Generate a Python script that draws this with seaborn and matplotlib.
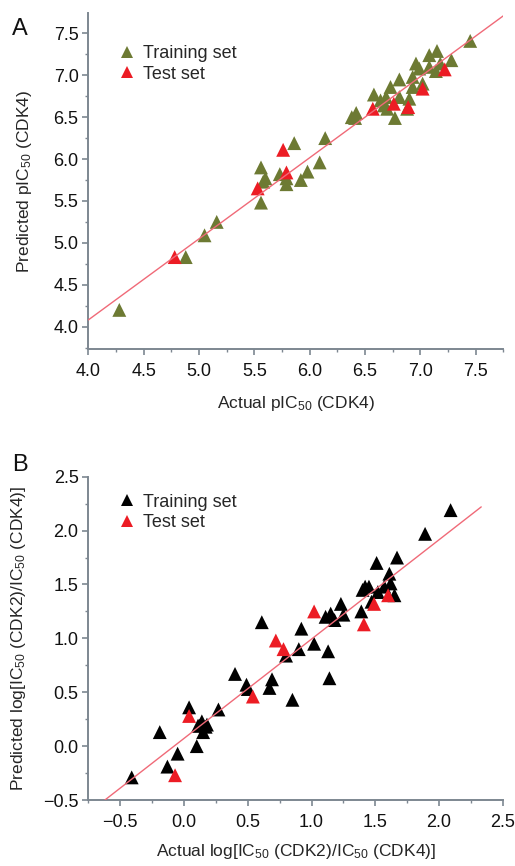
import numpy as np
import pandas as pd
import seaborn as sns
import matplotlib
import matplotlib.pyplot as plt
from matplotlib.ticker import MultipleLocator

matplotlib.use('Agg')

# Panel A: CDK4 pIC50 (actual vs predicted)
a_train_actual = [4.28, 4.88, 5.05, 5.16, 5.56, 5.56, 5.58, 5.60, 5.73, 5.79, 5.79,
                  5.86, 5.92, 5.98, 6.09, 6.14, 6.38, 6.42, 6.41, 6.58, 6.64, 6.67,
                  6.69, 6.73, 6.77, 6.81, 6.81, 6.70, 6.88, 6.90, 6.93, 6.93, 6.96,
                  6.99, 7.02, 7.08, 7.08, 7.15, 7.14, 7.18, 7.28, 7.45]
a_train_pred = [4.20, 4.83, 5.09, 5.25, 5.48, 5.90, 5.73, 5.77, 5.82, 5.77, 5.70,
                6.19, 5.75, 5.85, 5.96, 6.25, 6.50, 6.55, 6.49, 6.77, 6.70, 6.64,
                6.74, 6.86, 6.49, 6.95, 6.74, 6.60, 6.60, 6.72, 6.86, 6.98, 7.14,
                7.08, 6.90, 7.24, 7.10, 7.29, 7.05, 7.14, 7.18, 7.41]
a_test_actual = [4.78, 5.53, 5.76, 5.79, 6.57, 6.76, 6.89, 7.02, 7.22]
a_test_pred = [4.83, 5.65, 6.11, 5.84, 6.60, 6.66, 6.62, 6.84, 7.07]
a_fit_x = [4.0, 7.75]
a_fit_y = [4.08, 7.71]

# Panel B: selectivity log[IC50(CDK2)/IC50(CDK4)]
b_train_actual = [2.09, 1.89, 1.67, 1.51, 1.61, 1.62, 1.65, 1.57, 1.52, 1.45, 1.40,
                  1.47, 1.39, 1.23, 1.18, 1.11, 1.15, 1.25, 1.13, 1.14, 1.02, 0.92,
                  0.90, 0.80, 0.61, 0.85, 0.69, 0.67, 0.40, 0.49, 0.50, 0.27, 0.04,
                  0.14, 0.12, 0.17, 0.15, -0.19, 0.10, -0.05, -0.13, -0.41, 1.42,
                  0.18, 0.11]
b_train_pred = [2.19, 1.97, 1.75, 1.70, 1.60, 1.51, 1.40, 1.48, 1.43, 1.48, 1.45,
                1.34, 1.25, 1.32, 1.17, 1.20, 1.23, 1.22, 0.88, 0.63, 0.95, 1.09,
                0.90, 0.84, 1.15, 0.43, 0.62, 0.54, 0.67, 0.57, 0.53, 0.34, 0.36,
                0.23, 0.19, 0.18, 0.13, 0.13, 0.00, -0.07, -0.19, -0.29, 1.48,
                0.20, 0.19]
b_test_actual = [-0.07, 0.04, 0.54, 0.72, 0.78, 1.02, 1.41, 1.49, 1.60]
b_test_pred = [-0.27, 0.28, 0.46, 0.98, 0.90, 1.25, 1.13, 1.32, 1.40]
b_fit_x = [-0.62, 2.33]
b_fit_y = [-0.50, 2.22]

set_labels = ["Training set", "Test set"]

sns.set_theme(style="white")
plt.rcParams['font.family'] = ['Liberation Sans', 'DejaVu Sans']
plt.rcParams['mathtext.fontset'] = 'custom'
plt.rcParams['mathtext.rm'] = 'Liberation Sans'
plt.rcParams['mathtext.it'] = 'Liberation Sans'

SPINE = "#7d8791"
RED = "#ec1c24"
LINE = "#f06a78"


def make_df(train_x, train_y, test_x, test_y):
    return pd.DataFrame({
        "actual": list(train_x) + list(test_x),
        "pred": list(train_y) + list(test_y),
        "set": [set_labels[0]] * len(train_x) + [set_labels[1]] * len(test_x),
    })


def style_axes(ax, xlim, ylim, xmajor, ymajor):
    ax.set_xlim(*xlim)
    ax.set_ylim(*ylim)
    ax.xaxis.set_major_locator(MultipleLocator(xmajor))
    ax.xaxis.set_minor_locator(MultipleLocator(xmajor / 2))
    ax.yaxis.set_major_locator(MultipleLocator(ymajor))
    ax.yaxis.set_minor_locator(MultipleLocator(ymajor / 2))
    for side in ["top", "right"]:
        ax.spines[side].set_visible(False)
    for side in ["left", "bottom"]:
        ax.spines[side].set_color(SPINE)
        ax.spines[side].set_linewidth(1.4)
    ax.tick_params(which="major", direction="out", length=4, width=1.2,
                   color=SPINE, labelsize=13, labelcolor="#111111",
                   bottom=True, left=True)
    ax.tick_params(axis="x", which="major", pad=6)
    ax.tick_params(axis="y", which="major", pad=3)
    ax.tick_params(which="minor", direction="out", length=2.5, width=1.0,
                   color=SPINE, bottom=True, left=True)


def draw_panel(ax, df, fit_x, fit_y, train_color, legend_top):
    sns.scatterplot(data=df, x="actual", y="pred", hue="set",
                    palette={set_labels[0]: train_color, set_labels[1]: RED},
                    marker="^", s=100, edgecolor="none", linewidth=0, ax=ax,
                    zorder=2)
    sns.lineplot(x=fit_x, y=fit_y, color=LINE, linewidth=1.0, ax=ax, zorder=3)
    leg = ax.legend(loc="upper left", frameon=False, fontsize=13,
                    bbox_to_anchor=(0.067, legend_top), handletextpad=0.3,
                    labelspacing=0.2, borderaxespad=0, borderpad=0,
                    handlelength=1.2)
    for h in leg.legend_handles:
        h.set_markersize(8.5)


fig = plt.figure(figsize=(5.15, 8.66), dpi=100)
ax_a = fig.add_axes([0.1715, 0.5967, 0.806, 0.388])
ax_b = fig.add_axes([0.1715, 0.0762, 0.805, 0.3733])

df_a = make_df(a_train_actual, a_train_pred, a_test_actual, a_test_pred)
draw_panel(ax_a, df_a, a_fit_x, a_fit_y, "#6d7a33", 0.905)
style_axes(ax_a, (4.0, 7.75), (3.73, 7.74), 0.5, 0.5)
ax_a.set_xlabel("Actual pIC$_{50}$ (CDK4)", fontsize=12.5, labelpad=10)
ax_a.set_ylabel("Predicted pIC$_{50}$ (CDK4)", fontsize=12.5, labelpad=14)

df_b = make_df(b_train_actual, b_train_pred, b_test_actual, b_test_pred)
draw_panel(ax_b, df_b, b_fit_x, b_fit_y, "black", 0.948)
style_axes(ax_b, (-0.75, 2.5), (-0.5, 2.5), 0.5, 0.5)
ax_b.set_xlabel("Actual log[IC$_{50}$ (CDK2)/IC$_{50}$ (CDK4)]", fontsize=12.5,
                labelpad=8)
ax_b.set_ylabel("Predicted log[IC$_{50}$ (CDK2)/IC$_{50}$ (CDK4)]", fontsize=12.5,
                labelpad=11)

fig.text(0.023, 0.966, "A", fontsize=17, color="#111111", va="center")
fig.text(0.023, 0.463, "B", fontsize=17, color="#111111", va="center")

fig.savefig("out.png", dpi=100)
